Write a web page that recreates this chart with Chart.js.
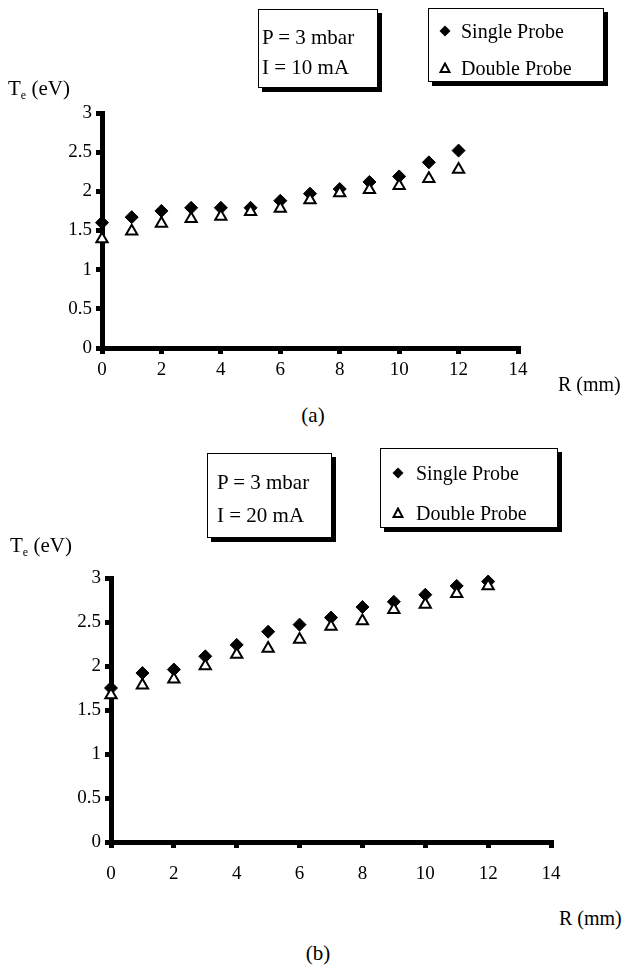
<!DOCTYPE html>
<html>
<head>
<meta charset="utf-8">
<script src="https://cdn.jsdelivr.net/npm/chart.js@4"></script>
<style>
  body { margin: 0; background: #fff; width: 627px; height: 969px; position: relative; overflow: hidden;
         font-family: "Liberation Serif", "Times New Roman", serif; color: #000; }
  .box { position: absolute; border: 1.5px solid #000; background: #fff; box-shadow: 4px 4px 0 #000; box-sizing: border-box; }
  .t { position: absolute; font-size: 21px; line-height: 22px; white-space: nowrap; }
  .lg { font-size: 20px; }
  .ax { font-size: 20px; }
  .c { text-align: center; width: 60px; }
  .mk { position: absolute; }
  sub { font-size: 12px; vertical-align: -4px; }
  canvas { position: absolute; left: 0; }
</style>
</head>
<body>
<canvas id="chartA" width="627" height="300" style="top:90px"></canvas>
<canvas id="chartB" width="627" height="350" style="top:540px"></canvas>

<!-- panel (a) annotations -->
<div class="box" style="left:258px;top:9px;width:120px;height:79px"></div>
<div class="t" style="left:262px;top:26px">P = 3 mbar</div>
<div class="t" style="left:262px;top:56px">I = 10 mA</div>
<div class="box" style="left:428px;top:8px;width:176px;height:74px"></div>
<svg class="mk" style="left:439px;top:25px" width="12" height="12"><polygon points="6,0.5 11.5,6 6,11.5 0.5,6" fill="#000"/></svg>
<div class="t lg" style="left:461px;top:20px">Single Probe</div>
<svg class="mk" style="left:439px;top:62px" width="12" height="12"><polygon points="6,1.5 10.5,10 1.5,10" fill="#fff" stroke="#000" stroke-width="2"/></svg>
<div class="t lg" style="left:461px;top:57px">Double Probe</div>
<div class="t" style="left:8px;top:77px">T<sub>e</sub> (eV)</div>
<div class="t ax" style="left:558px;top:373px">R (mm)</div>
<div class="t c" style="left:283px;top:404px">(a)</div>

<!-- panel (b) annotations -->
<div class="box" style="left:207px;top:453px;width:125px;height:85px"></div>
<div class="t" style="left:217px;top:471px">P = 3 mbar</div>
<div class="t" style="left:217px;top:504px">I = 20 mA</div>
<div class="box" style="left:380px;top:448px;width:178px;height:80px"></div>
<svg class="mk" style="left:392px;top:467px" width="12" height="12"><polygon points="6,0.5 11.5,6 6,11.5 0.5,6" fill="#000"/></svg>
<div class="t lg" style="left:416px;top:462px">Single Probe</div>
<svg class="mk" style="left:392px;top:507px" width="12" height="12"><polygon points="6,1.5 10.5,10 1.5,10" fill="#fff" stroke="#000" stroke-width="2"/></svg>
<div class="t lg" style="left:416px;top:502px">Double Probe</div>
<div class="t" style="left:10px;top:534px">T<sub>e</sub> (eV)</div>
<div class="t ax" style="left:559px;top:907px">R (mm)</div>
<div class="t c" style="left:288px;top:942px">(b)</div>

<script>
// Radial position (mm)
const radius = [0, 1, 2, 3, 4, 5, 6, 7, 8, 9, 10, 11, 12];

// Electron temperature (eV), I = 10 mA
const te10Single = [1.60, 1.67, 1.75, 1.79, 1.79, 1.79, 1.88, 1.97, 2.03, 2.12, 2.19, 2.37, 2.52];
const te10Double = [1.39, 1.49, 1.59, 1.65, 1.68, 1.74, 1.78, 1.89, 1.98, 2.02, 2.07, 2.16, 2.28];

// Electron temperature (eV), I = 20 mA
const te20Single = [1.75, 1.92, 1.96, 2.11, 2.24, 2.39, 2.47, 2.55, 2.67, 2.73, 2.81, 2.91, 2.96];
const te20Double = [1.67, 1.78, 1.85, 2.00, 2.13, 2.20, 2.30, 2.45, 2.51, 2.64, 2.70, 2.82, 2.91];

// Axis ranges and tick steps
const xRange = [0, 14], xStep = 2;
const yRange = [0, 3], yStep = 0.5;

const serif = '"Liberation Serif", "Times New Roman", serif';

function toPoints(xs, ys) {
  return xs.map((x, i) => ({ x: x, y: ys[i] }));
}

// Plain numbers: 0, 0.5, 1, 1.5 ...
const plain = v => String(Math.round(v * 10) / 10);

function axisGrid() {
  return { drawOnChartArea: false, drawTicks: true, tickLength: 6, lineWidth: 5, tickWidth: 5,
           tickColor: '#000', color: '#000' };
}

function makeChart(id, single, dbl, g) {
  return new Chart(document.getElementById(id), {
    type: 'scatter',
    data: {
      datasets: [
        {
          label: 'Double Probe',
          data: toPoints(radius, dbl),
          pointStyle: 'triangle',
          pointRadius: 6.5,
          backgroundColor: '#fff',
          borderColor: '#000',
          borderWidth: 2,
          clip: false
        },
        {
          label: 'Single Probe',
          data: toPoints(radius, single),
          pointStyle: 'rectRot',
          pointRadius: 6.5,
          backgroundColor: '#000',
          borderColor: '#000',
          borderWidth: 1,
          clip: false
        }
      ]
    },
    options: {
      responsive: false,
      animation: false,
      devicePixelRatio: 1,
      layout: { padding: { top: g.top, right: g.right, left: 0, bottom: 0 } },
      plugins: { legend: { display: false }, tooltip: { enabled: false } },
      scales: {
        x: {
          type: 'linear',
          min: xRange[0], max: xRange[1],
          afterFit: s => { s.height = g.xh; },
          border: { color: '#000', width: 5 },
          grid: axisGrid(),
          ticks: { stepSize: xStep, color: '#000', padding: g.xpad, callback: plain,
                   font: { family: serif, size: 19 } }
        },
        y: {
          type: 'linear',
          min: yRange[0], max: yRange[1],
          afterFit: s => { s.width = g.yw; },
          border: { color: '#000', width: 5 },
          grid: axisGrid(),
          ticks: { stepSize: yStep, color: '#000', padding: 4, callback: plain,
                   font: { family: serif, size: 19 } }
        }
      }
    }
  });
}

makeChart('chartA', te10Single, te10Double, { top: 23, right: 109, yw: 102, xh: 42, xpad: 5 });
makeChart('chartB', te20Single, te20Double, { top: 38, right: 76, yw: 111, xh: 48, xpad: 15 });
</script>
</body>
</html>
